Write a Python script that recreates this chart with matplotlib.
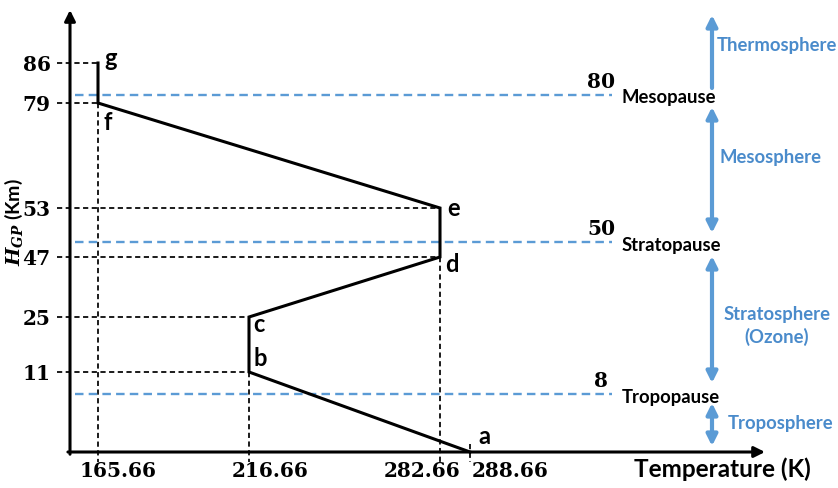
import numpy as np
import matplotlib
matplotlib.use("Agg")
import matplotlib.pyplot as plt

# ---------------- data ----------------
point_names = ["a", "b", "c", "d", "e", "f", "g"]
temperatures = [288.66, 216.66, 216.66, 282.66, 282.66, 165.66, 165.66]
heights = [0, 11, 25, 47, 53, 79, 86]

y_ticks = [11, 25, 47, 53, 79, 86]
x_ticks = [165.66, 216.66, 282.66, 288.66]
x_tick_labels = ["165.66", "216.66", "282.66", "288.66"]

pause_heights = [8, 50, 80]
pause_names = ["Tropopause", "Stratopause", "Mesopause"]
layer_names = ["Troposphere", "Stratosphere\n(Ozone)", "Mesosphere", "Thermosphere"]

# ---------------- layout (schematic, non-linear axes) ----------------
W, H = 838, 488
BLUE = "#5B9BD5"
TXTBLUE = "#4A8BCB"

xk_T = [100, 165.66, 216.66, 282.66, 288.66, 500]
xk_px = [-96.4, 98, 249, 440, 470, 1104]
yk_h = [-20, 0, 8, 11, 25, 47, 50, 53, 79, 80, 86, 150]
yk_px = [592, 452, 394, 372, 317, 257, 242, 208, 103, 95, 63, -257]


def fx(t):
    return np.interp(t, xk_T, xk_px)


def ix(p):
    return np.interp(p, xk_px, xk_T)


_ypx_up = [H - p for p in yk_px]  # increasing


def fy(h):
    return np.interp(h, yk_h, _ypx_up)


def iy(v):
    return np.interp(v, _ypx_up, yk_h)


plt.rcParams["mathtext.fontset"] = "custom"
plt.rcParams["mathtext.it"] = "DejaVu Serif:italic:bold"
plt.rcParams["mathtext.rm"] = "DejaVu Serif:bold"

fig = plt.figure(figsize=(W / 100, H / 100), dpi=100)
ax = fig.add_axes([70 / W, 36 / H, 695 / W, 442 / H])
ax.set_xscale("function", functions=(fx, ix))
ax.set_yscale("function", functions=(fy, iy))
ax.set_xlim(ix(70), ix(765))
ax.set_ylim(iy(36), iy(478))
for s in ax.spines.values():
    s.set_visible(False)

# axis arrows
arr = dict(arrowstyle="-|>", lw=2.2, color="black", mutation_scale=16,
           shrinkA=0, shrinkB=0)
ax.annotate("", xy=(0, 1), xytext=(0, -0.005), xycoords="axes fraction", arrowprops=arr)
ax.annotate("", xy=(1, 0), xytext=(-0.003, 0), xycoords="axes fraction", arrowprops=arr)

# ticks
serif = dict(family="DejaVu Serif", weight="bold", size=14.5)
ax.set_yticks(y_ticks)
ax.set_yticklabels([str(v) for v in y_ticks], fontdict=serif)
ax.set_xticks([])
ax.tick_params(axis="y", length=0, pad=14)

x_off = [20, 21, -18, 40]
for t, lab, off in zip(x_ticks, x_tick_labels, x_off):
    ax.annotate(lab, xy=(t, 0), xytext=(off, -19), textcoords="offset pixels",
                ha="center", va="center", annotation_clip=False, **serif)

# reference dashed lines
dash_k = dict(color="black", lw=1.25, ls=(0, (3.0, 2.0)), clip_on=False, zorder=2)
x_stub = ix(57)
y_stub = iy(H - 462)
for t, h, n in zip(temperatures, heights, point_names):
    if n != "a":
        ax.plot([x_stub, t], [h, h], **dash_k)
for t, h in [(165.66, 79), (216.66, 11), (282.66, 47)]:
    ax.plot([t, t], [h, y_stub], **dash_k)
ax.plot([288.66, 288.66], [iy(H - 444), y_stub], **dash_k)

# profile
ax.plot(temperatures, heights, color="black", lw=2.2, zorder=4,
        solid_joinstyle="miter", clip_on=False)

# point labels
lab_off = {"a": (14, 16), "b": (11, 14), "c": (10, -8), "d": (12, -7),
           "e": (14, 0), "f": (10, -19), "g": (13, 4)}
for t, h, n in zip(temperatures, heights, point_names):
    dx, dy = lab_off[n]
    ax.annotate(n, xy=(t, h), xytext=(dx, dy), textcoords="offset pixels",
                ha="center", va="center", family="Lato", weight="bold",
                size=17, annotation_clip=False)

# pause lines
yt = ax.get_yaxis_transform()
for h, name in zip(pause_heights, pause_names):
    ax.plot([0.007, 0.78], [h, h], transform=yt, color=BLUE, lw=1.7,
            ls=(0, (3.6, 2.2)), zorder=3, clip_on=False)
    ax.annotate(str(h), xy=(0.764, h), xycoords=yt, xytext=(0, 13),
                textcoords="offset pixels", ha="center", va="center", **serif)
    ax.annotate(name, xy=(0.794, h), xycoords=yt, xytext=(0, -3),
                textcoords="offset pixels", ha="left", va="center",
                family="Lato", weight="bold", size=13.3, color="black")

# layer arrows (figure pixels, y measured from top)
AX = 712
ab = dict(color=BLUE, lw=3, mutation_scale=16, shrinkA=0, shrinkB=0)
ax.annotate("", xy=(AX, H - 15), xytext=(AX, H - 88), xycoords="figure pixels",
            arrowprops=dict(arrowstyle="-|>", **ab))
for top, bot in [(107, 233), (256, 383), (403, 446)]:
    ax.annotate("", xy=(AX, H - top), xytext=(AX, H - bot), xycoords="figure pixels",
                arrowprops=dict(arrowstyle="<|-|>", **ab))

lay_pos = [(781, 424), (777, 326), (770, 157), (777, 46)]
for name, (px, py) in zip(layer_names, lay_pos):
    fig.text(px / W, 1 - py / H, name, ha="center", va="center",
             family="Lato", weight="bold", size=13.3, color=TXTBLUE,
             linespacing=1.35)

# axis titles
fig.text(722 / W, 1 - 469 / H, "Temperature (K)", ha="center", va="center",
         family="Lato", weight="bold", size=17.5)
fig.text(3 / W, 1 - 222 / H, r"$H_{GP}$ (Km)", ha="left", va="center",
         rotation=90, family="Lato", weight="bold", size=14)

fig.savefig("out.png", dpi=100)
